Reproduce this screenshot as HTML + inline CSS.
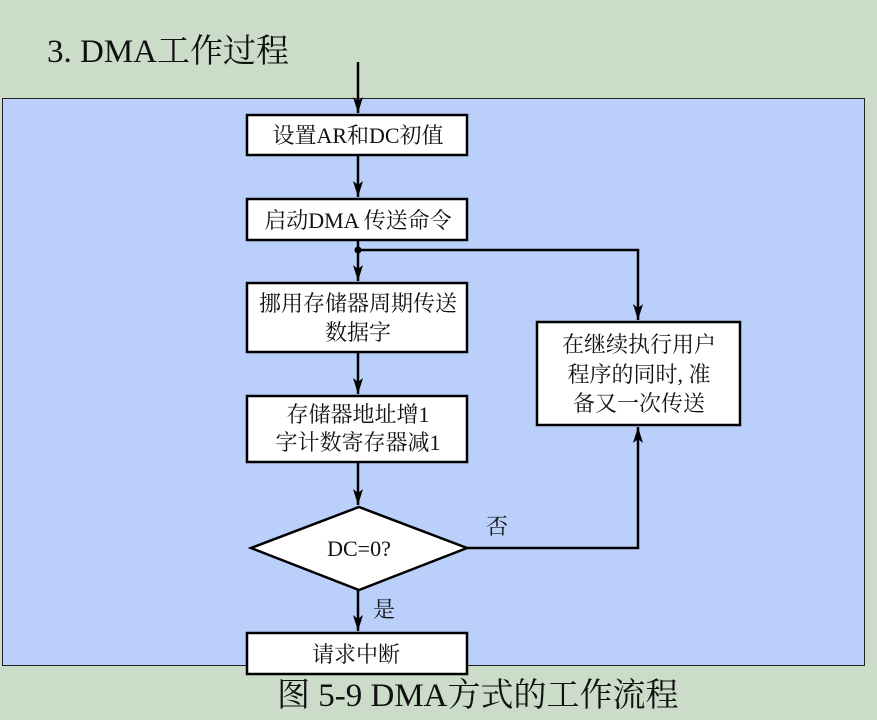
<!DOCTYPE html>
<html><head><meta charset="utf-8">
<style>
html,body{margin:0;padding:0;background:#cbdcc9;}
svg{display:block;}
text{font-family:"Liberation Serif","Noto Serif CJK SC",serif;fill:#111;}
</style></head>
<body>
<svg width="877" height="720" viewBox="0 0 877 720" xmlns="http://www.w3.org/2000/svg">
<defs>
<marker id="a" markerWidth="16" markerHeight="10" refX="16" refY="5" orient="auto" markerUnits="userSpaceOnUse" viewBox="0 0 16 10">
<path d="M0,0 L4,5 L0,10 L16,5 Z" fill="#000"/>
</marker>
</defs>
<rect width="877" height="720" fill="#cbdcc9"/>
<text x="47" y="62" font-size="33">3. DMA工作过程</text>
<rect x="2.5" y="98.5" width="862" height="567" fill="#bad0fb" stroke="#222" stroke-width="1"/>
<g stroke="#000" stroke-width="2.5" fill="none">
<line x1="358" y1="62" x2="358" y2="113" marker-end="url(#a)"/>
<line x1="358" y1="156" x2="358" y2="197" marker-end="url(#a)"/>
<line x1="358" y1="241" x2="358" y2="281" marker-end="url(#a)"/>
<polyline points="358,250 638,250 638,320" marker-end="url(#a)"/>
<line x1="358" y1="353" x2="358" y2="394" marker-end="url(#a)"/>
<line x1="358" y1="463" x2="358" y2="505" marker-end="url(#a)"/>
<line x1="358" y1="590" x2="358" y2="631" marker-end="url(#a)"/>
<polyline points="467,548 638,548 638,427" marker-end="url(#a)"/>
</g>
<circle cx="358" cy="250" r="3.5" fill="#000"/>
<g fill="#fff" stroke="#000" stroke-width="2.5">
<rect x="247" y="115" width="220" height="40"/>
<rect x="247" y="199" width="220" height="41"/>
<rect x="247" y="283" width="220" height="69"/>
<rect x="247" y="396" width="220" height="66"/>
<polygon points="251,548 359,507 467,548 359,590"/>
<rect x="247" y="633" width="220" height="41"/>
<rect x="537" y="322" width="203" height="103"/>
</g>
<g font-size="22" text-anchor="middle">
<text x="358" y="143">设置AR和DC初值</text>
<text x="358" y="228">启动DMA 传送命令</text>
<text x="358" y="311">挪用存储器周期传送</text>
<text x="358" y="340">数据字</text>
<text x="358" y="422">存储器地址增1</text>
<text x="358" y="450">字计数寄存器减1</text>
<text x="359" y="556">DC=0?</text>
<text x="356" y="662">请求中断</text>
<text x="639" y="352">在继续执行用户</text>
<text x="639" y="382">程序的同时, 准</text>
<text x="639" y="411">备又一次传送</text>
<text x="497" y="534">否</text>
<text x="384" y="617">是</text>
</g>
<text x="277" y="706" font-size="33">图 5-9 DMA方式的工作流程</text>
</svg>
</body></html>
